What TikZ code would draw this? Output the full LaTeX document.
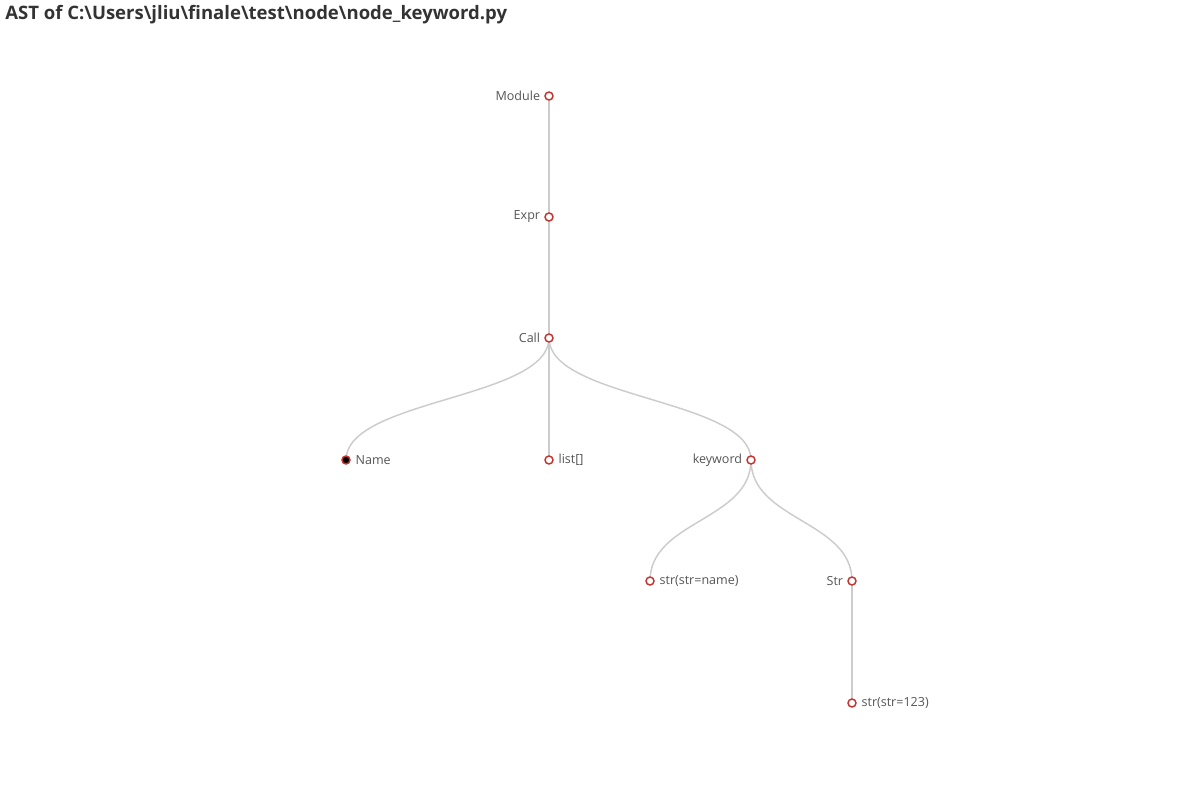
\documentclass[tikz,border=0pt]{standalone}
\usepackage{fontspec}
\setmainfont{Open Sans}
\definecolor{edgec}{HTML}{CCCCCC}
\definecolor{nodec}{HTML}{C23531}
\definecolor{labc}{HTML}{555555}
\definecolor{titc}{HTML}{333333}
\begin{document}
\begin{tikzpicture}[x=0.75pt,y=-0.75pt,
  dot/.style={circle,draw=nodec,fill=white,line width=1.1pt,minimum size=6pt,inner sep=0pt},
  fulldot/.style={dot,fill=black},
  lab/.style={text=labc,font=\fontsize{9.4}{11}\selectfont,inner sep=0pt},
  edge/.style={draw=edgec,line width=1.1pt}]
\useasboundingbox (0,0) rectangle (1200,800);
\node[anchor=base west,text=titc,font=\bfseries\fontsize{13.9}{16}\selectfont,inner sep=0pt] (title) at (5,19) {AST of C:\textbackslash Users\textbackslash jliu\textbackslash finale\textbackslash test\textbackslash node\textbackslash node\_keyword.py};
\coordinate (pModule) at (549,96);
\coordinate (pExpr) at (549,217);
\coordinate (pCall) at (549,338);
\coordinate (pName) at (346,460);
\coordinate (pList) at (549,460);
\coordinate (pKeyword) at (751,460);
\coordinate (pStrName) at (650,581);
\coordinate (pStr) at (852,581);
\coordinate (pStr123) at (852,703);
% edges
\draw[edge] (pModule) -- (pExpr);
\draw[edge] (pExpr) -- (pCall);
\draw[edge] (pCall) .. controls (549,399) and (346,399) .. (pName);
\draw[edge] (pCall) -- (pList);
\draw[edge] (pCall) .. controls (549,399) and (751,399) .. (pKeyword);
\draw[edge] (pKeyword) .. controls (751,520.5) and (650,520.5) .. (pStrName);
\draw[edge] (pKeyword) .. controls (751,520.5) and (852,520.5) .. (pStr);
\draw[edge] (pStr) -- (pStr123);
% nodes
\node[dot] (module) at (pModule) {};
\node[dot] (expr) at (pExpr) {};
\node[dot] (call) at (pCall) {};
\node[fulldot] (name) at (pName) {};
\node[dot] (list) at (pList) {};
\node[dot] (keyword) at (pKeyword) {};
\node[dot] (strname) at (pStrName) {};
\node[dot] (str) at (pStr) {};
\node[dot] (str123) at (pStr123) {};
% labels
\node[lab,anchor=east] (lModule) at ([xshift=-6.5pt]module.center) {Module};
\node[lab,anchor=east] (lExpr) at ([xshift=-6.5pt]expr.center) {Expr};
\node[lab,anchor=east] (lCall) at ([xshift=-6.5pt]call.center) {Call};
\node[lab,anchor=west] (lName) at ([xshift=7pt]name.center) {Name};
\node[lab,anchor=west] (lList) at ([xshift=7pt]list.center) {list[]};
\node[lab,anchor=east] (lKeyword) at ([xshift=-6.5pt]keyword.center) {keyword};
\node[lab,anchor=west] (lStrName) at ([xshift=7pt]strname.center) {str(str=name)};
\node[lab,anchor=east] (lStr) at ([xshift=-6.5pt]str.center) {Str};
\node[lab,anchor=west] (lStr123) at ([xshift=7pt]str123.center) {str(str=123)};
\end{tikzpicture}
\end{document}
